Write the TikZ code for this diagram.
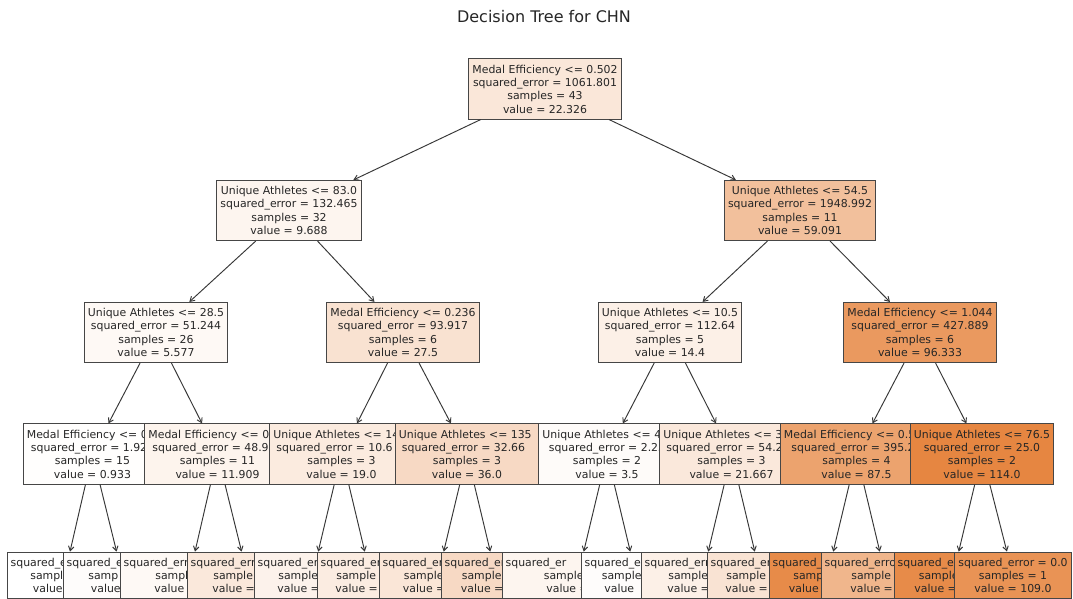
\documentclass[tikz,border=0pt]{standalone}
\usepackage{fontspec}
\setmainfont{DejaVu Sans}
\usetikzlibrary{arrows.meta}
\definecolor{treeorange}{RGB}{229,129,57}
\definecolor{edgegray}{RGB}{70,70,70}
\definecolor{linegray}{RGB}{55,55,55}
\definecolor{titlegray}{RGB}{38,38,38}
\tikzset{
  tbox/.style={draw=edgegray, line width=1pt, inner xsep=3.7pt, inner ysep=5.9pt,
    align=center, text=black!85, font=\fontsize{10.9}{13.3}\selectfont},
  conn/.style={draw=linegray, line width=0.95pt, -{Straight Barb[length=4.5pt,width=5.5pt]}},
  titletext/.style={text=titlegray, font=\fontsize{16}{19}\selectfont},
}
\begin{document}
\begin{tikzpicture}[x=1pt,y=-1pt]
\useasboundingbox (0,0) rectangle (1073,598);
\clip (0,0) rectangle (1073,598);
\fill[white] (0,0) rectangle (1073,598);

\node[titletext] (title) at (544,17) {Decision Tree for CHN};

% level 0
\node[tbox, fill=treeorange!19!white] (n0) at (545,89) {Medal Efficiency <= 0.502\\squared\_error = 1061.801\\samples = 43\\value = 22.326};
% level 1
\node[tbox, fill=treeorange!8!white] (n1) at (289,210.5) {Unique Athletes <= 83.0\\squared\_error = 132.465\\samples = 32\\value = 9.688};
\node[tbox, fill=treeorange!50!white] (n2) at (800,210.5) {Unique Athletes <= 54.5\\squared\_error = 1948.992\\samples = 11\\value = 59.091};
% level 2
\node[tbox, fill=treeorange!5!white] (n3) at (156,332.5) {Unique Athletes <= 28.5\\squared\_error = 51.244\\samples = 26\\value = 5.577};
\node[tbox, fill=treeorange!23!white] (n4) at (403,332.5) {Medal Efficiency <= 0.236\\squared\_error = 93.917\\samples = 6\\value = 27.5};
\node[tbox, fill=treeorange!12!white] (n5) at (670,332.5) {Unique Athletes <= 10.5\\squared\_error = 112.64\\samples = 5\\value = 14.4};
\node[tbox, fill=treeorange!81!white] (n6) at (920,332.5) {Medal Efficiency <= 1.044\\squared\_error = 427.889\\samples = 6\\value = 96.333};
% level 3 (drawn left to right, later boxes cover earlier ones)
\node[tbox, fill=treeorange!1!white] (n7) at (92.5,454) {Medal Efficiency <= 0.\phantom{1}\\squared\_error = 1.92\phantom{9}\\samples = 15\\value = 0.933};
\node[tbox, fill=treeorange!9!white] (n8) at (217.5,454) {Medal Efficiency <= 0.\phantom{00}\\squared\_error = 48.9\phantom{91}\\samples = 11\\value = 11.909};
\node[tbox, fill=treeorange!16!white] (n9) at (341.5,454) {Unique Athletes <= 14\phantom{.5}\\squared\_error = 10.6\phantom{67}\\samples = 3\\value = 19.0};
\node[tbox, fill=treeorange!30!white] (n10) at (467,454) {Unique Athletes <= 135\phantom{.}\\squared\_error = 32.66\phantom{7}\\samples = 3\\value = 36.0};
\node[tbox, fill=treeorange!3!white] (n11) at (607,454) {Unique Athletes <= 4\phantom{.5}\\squared\_error = 2.25\\samples = 2\\value = 3.5};
\node[tbox, fill=treeorange!18!white] (n12) at (731.5,454) {Unique Athletes <= 3\phantom{5.5}\\squared\_error = 54.2\phantom{22}\\samples = 3\\value = 21.667};
\node[tbox, fill=treeorange!73!white] (n13) at (856.5,454) {Medal Efficiency <= 0.5\phantom{12}\\squared\_error = 395.2\phantom{5}\\samples = 4\\value = 87.5};
\node[tbox, fill=treeorange!96!white] (n14) at (982,454) {Unique Athletes <= 76.5\\squared\_error = 25.0\\samples = 2\\value = 114.0};
% level 4 (leaves, drawn left to right)
\node[tbox, fill=white] (l1) at (64.5,575.5) {\makebox[107.6pt][l]{squared\_e}\\sampl\phantom{es = 9}\\value\phantom{ = 0.0}};
\node[tbox, fill=treeorange!2!white] (l2) at (122.5,575.5) {\makebox[111.6pt][l]{squared\_e}\\samp\phantom{les = 9}\\value\phantom{ = 0.0}};
\node[tbox, fill=treeorange!5!white] (l3) at (189.5,575.5) {\makebox[131.6pt][l]{squared\_err}\\sampl\phantom{es = 9}\\value =\phantom{ 00.0}};
\node[tbox, fill=treeorange!18!white] (l4) at (247.5,575.5) {\makebox[113.6pt][l]{squared\_err}\\sample\phantom{s = 9}\\value =\phantom{ 00.0}};
\node[tbox, fill=treeorange!10!white] (l5) at (312.5,575.5) {\makebox[109.6pt][l]{squared\_er}\\sample\phantom{s = 9}\\value =\phantom{ 00.0}};
\node[tbox, fill=treeorange!15!white] (l6) at (370.5,575.5) {\makebox[99.6pt][l]{squared\_er}\\sample\phantom{s = 9}\\value =\phantom{ 00.0}};
\node[tbox, fill=treeorange!20!white] (l7) at (438,575.5) {\makebox[110.6pt][l]{squared\_er}\\sample\phantom{s = 9}\\value =\phantom{ 00.0}};
\node[tbox, fill=treeorange!30!white] (l8) at (496,575.5) {\makebox[102.6pt][l]{squared\_er}\\sample\phantom{s = 9}\\value =\phantom{ 00.0}};
\node[tbox, fill=treeorange!8!white] (l9) at (578,575.5) {\makebox[144.6pt][l]{squared\_er}\\sample\phantom{s = 9}\\value =\phantom{ 0.0}};
\node[tbox, fill=treeorange!2!white] (l10) at (636,575.5) {\makebox[102.6pt][l]{squared\_e}\\sample\phantom{s = 9}\\value\phantom{ = 0.0}};
\node[tbox, fill=treeorange!12!white] (l11) at (702.5,575.5) {\makebox[115.6pt][l]{squared\_err}\\sample\phantom{s = 9}\\value =\phantom{ 00.0}};
\node[tbox, fill=treeorange!22!white] (l12) at (760.5,575.5) {\makebox[99.6pt][l]{squared\_er}\\sample\phantom{s = 9}\\value =\phantom{ 00.0}};
\node[tbox, fill=treeorange!92!white] (l13) at (827.5,575.5) {\makebox[109.6pt][l]{squared\_}\\samp\phantom{les = 9}\\value\phantom{ = 000.0}};
\node[tbox, fill=treeorange!58!white] (l14) at (885.5,575.5) {\makebox[121.6pt][l]{squared\_erro}\\sample\phantom{s = 9}\\value =\phantom{ 00.0}};
\node[tbox, fill=treeorange!92!white] (l15) at (953,575.5) {\makebox[110.6pt][l]{squared\_er}\\sample\phantom{s = 9}\\value =\phantom{ 000.0}};
\node[tbox, fill=treeorange!86!white] (l16) at (1013,575.5) {squared\_error = 0.0\\samples = 1\\value = 109.0};

% connectors
\draw[conn] (n0) -- (n1);
\draw[conn] (n0) -- (n2);
\draw[conn] (n1) -- (n3);
\draw[conn] (n1) -- (n4);
\draw[conn] (n2) -- (n5);
\draw[conn] (n2) -- (n6);
\draw[conn] (n3) -- (n7);
\draw[conn] (n3) -- (n8);
\draw[conn] (n4) -- (n9);
\draw[conn] (n4) -- (n10);
\draw[conn] (n5) -- (n11);
\draw[conn] (n5) -- (n12);
\draw[conn] (n6) -- (n13);
\draw[conn] (n6) -- (n14);
\draw[conn] (n7) -- (l1);
\draw[conn] (n7) -- (l2);
\draw[conn] (n8) -- (l3);
\draw[conn] (n8) -- (l4);
\draw[conn] (n9) -- (l5);
\draw[conn] (n9) -- (l6);
\draw[conn] (n10) -- (l7);
\draw[conn] (n10) -- (l8);
\draw[conn] (n11) -- (l9);
\draw[conn] (n11) -- (l10);
\draw[conn] (n12) -- (l11);
\draw[conn] (n12) -- (l12);
\draw[conn] (n13) -- (l13);
\draw[conn] (n13) -- (l14);
\draw[conn] (n14) -- (l15);
\draw[conn] (n14) -- (l16);
\end{tikzpicture}
\end{document}
